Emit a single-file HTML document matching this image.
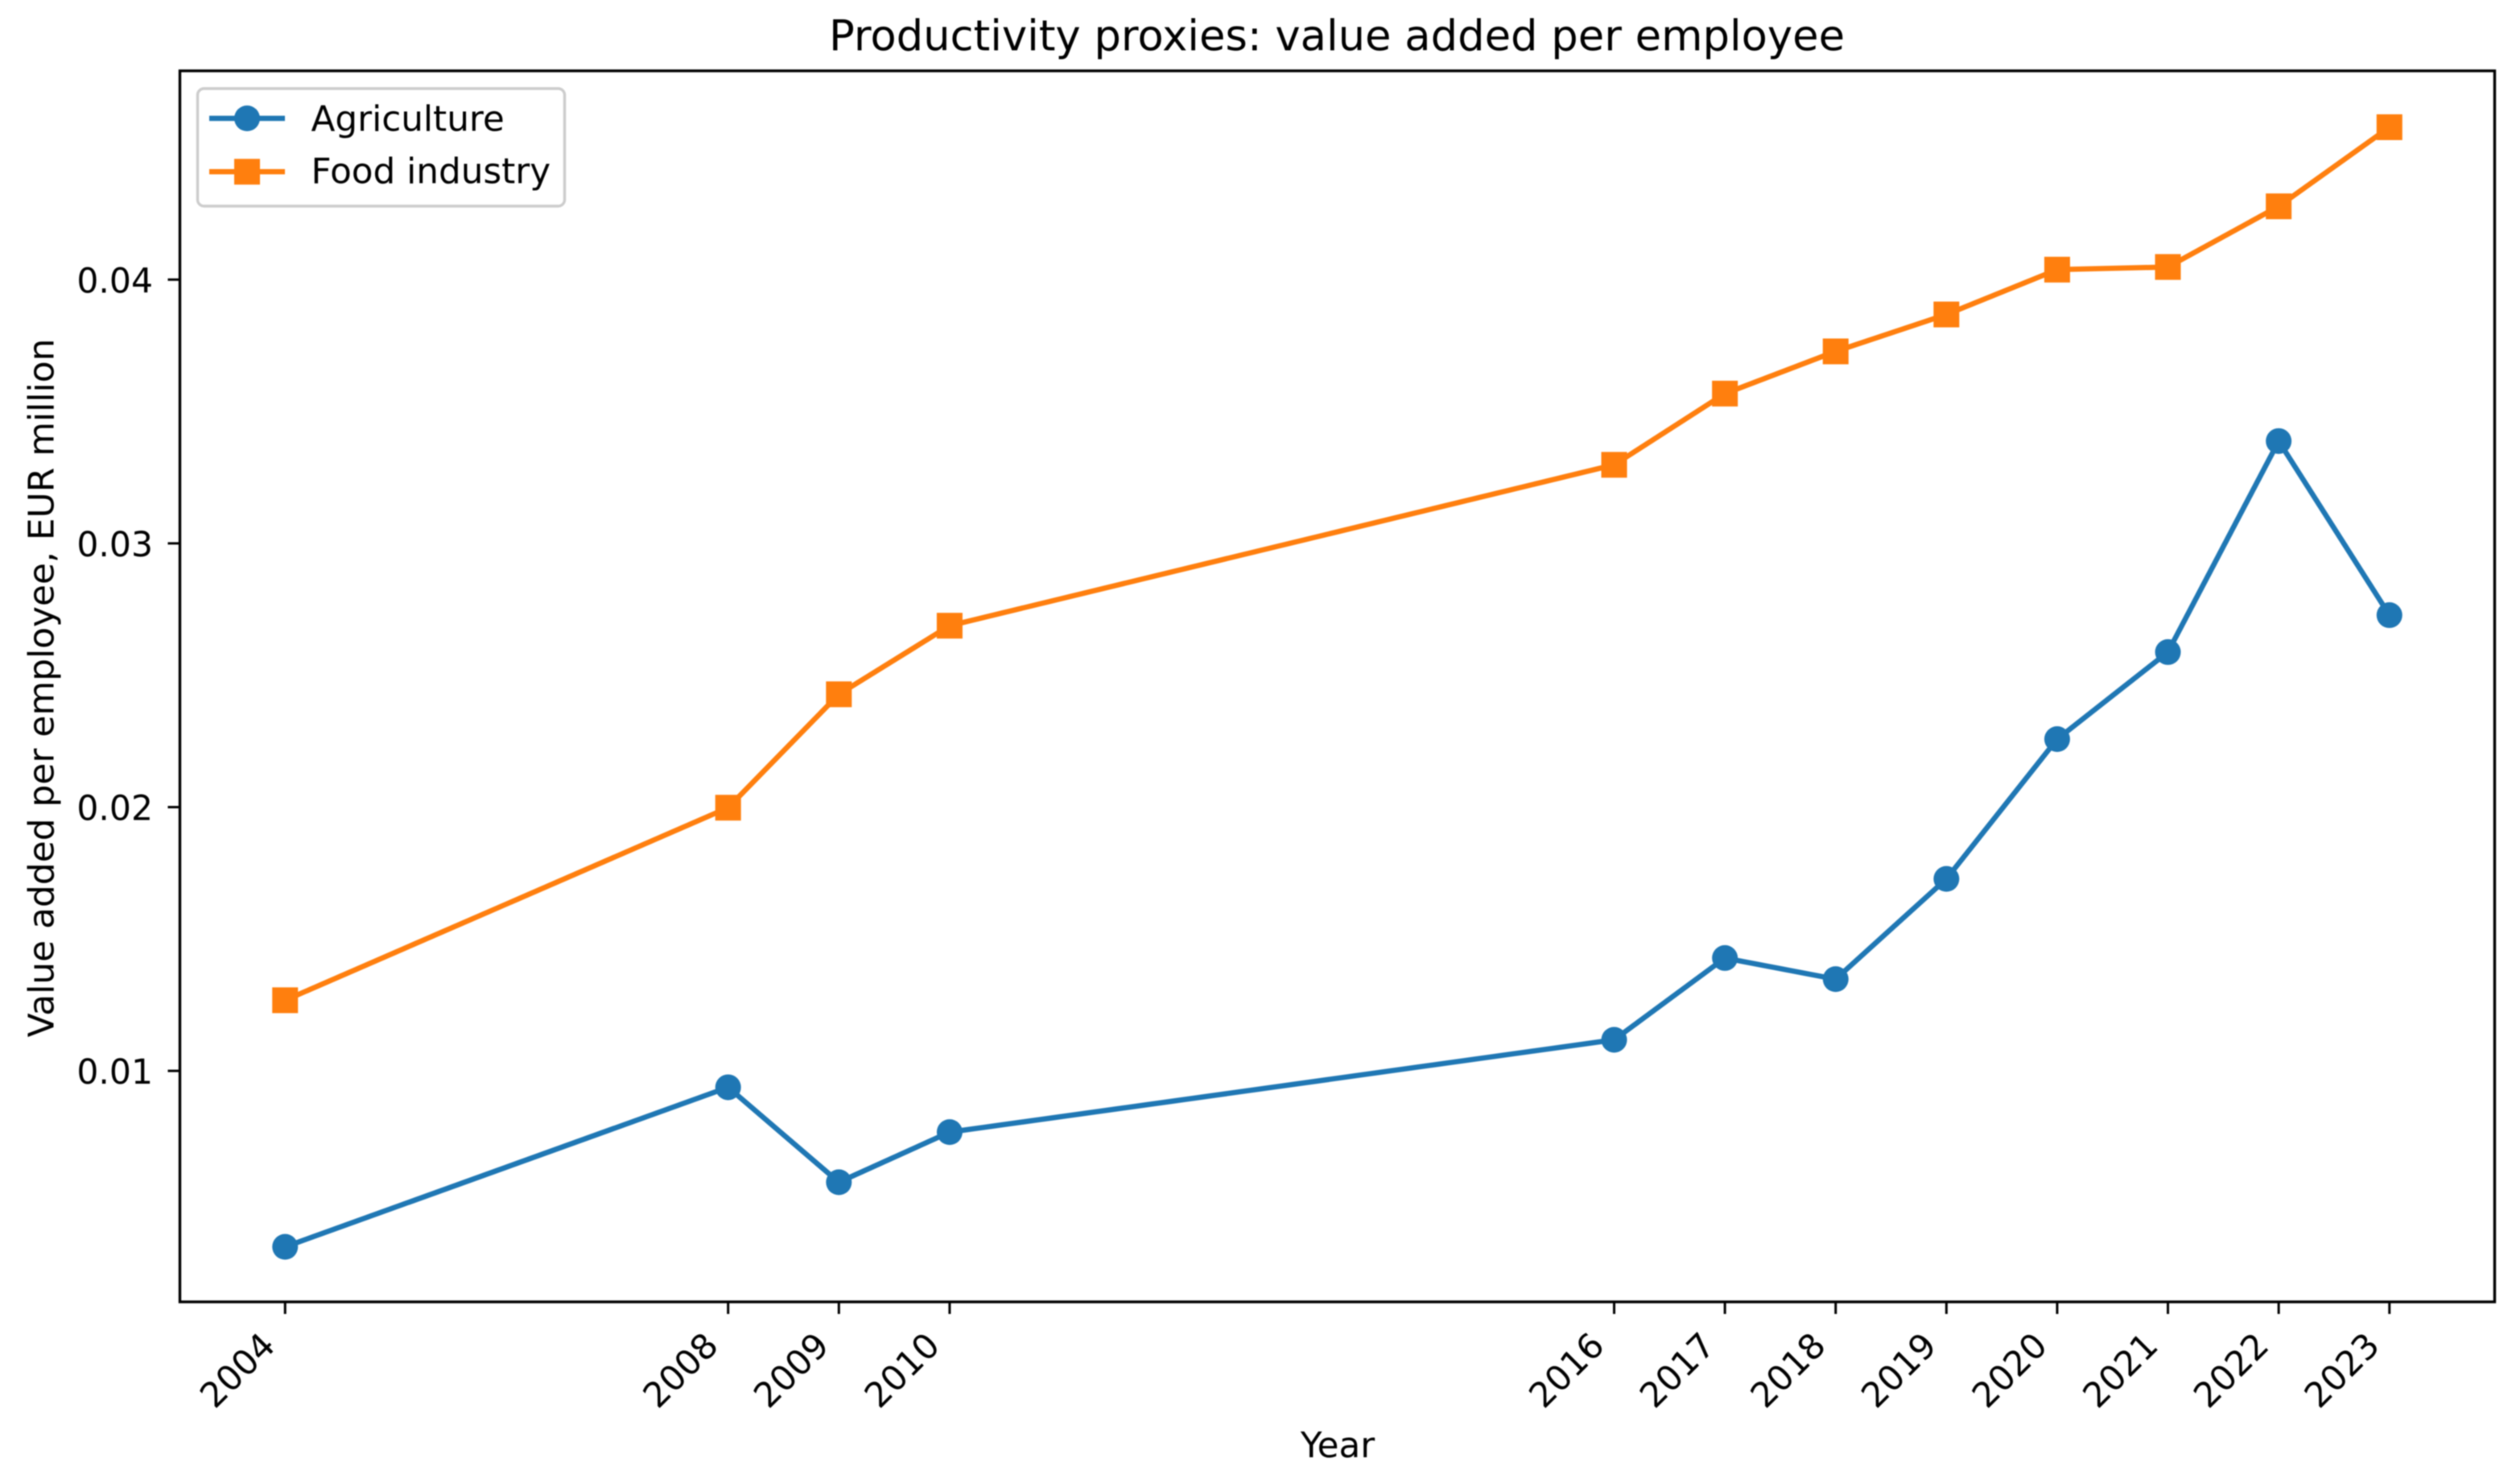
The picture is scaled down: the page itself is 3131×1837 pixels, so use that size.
<!DOCTYPE html>
<html lang="en">
<head>
<meta charset="utf-8">
<title>Productivity proxies: value added per employee</title>
<style>
html,body{margin:0;padding:0;background:#fff;width:3131px;height:1837px;overflow:hidden}
svg{display:block;filter:blur(0.9px)}
text{font-family:"DejaVu Sans","Liberation Sans",sans-serif;fill:#000}
</style>
</head>
<body>
<svg id="chart" xmlns="http://www.w3.org/2000/svg" width="3131" height="1837" viewBox="0 0 3131 1837">
  <rect x="0" y="0" width="3131" height="1837" fill="#fff"/>
  <g id="marks"></g>
  <rect x="223.5" y="88" width="2876" height="1529" fill="none" stroke="#000" stroke-width="3.4"/>
  <g id="xticks"></g>
  <g id="yticks"></g>
  <text x="1661" y="62.5" font-size="52.75" text-anchor="middle">Productivity proxies: value added per employee</text>
  <text x="1662" y="1810" font-size="43.6" text-anchor="middle">Year</text>
  <text x="0" y="0" font-size="43.9" text-anchor="middle" transform="translate(66.5 854.5) rotate(-90)">Value added per employee, EUR million</text>
  <g>
    <rect x="245.5" y="110" width="456" height="146" rx="8" ry="8" fill="#fff" fill-opacity="0.8" stroke="#ccc" stroke-width="3.4"/>
    <g>
      <line x1="260" y1="147" x2="354" y2="147" stroke="#1f77b4" stroke-width="6.5"/>
      <circle cx="307" cy="147" r="16" fill="#1f77b4"/>
      <text x="386.5" y="162.5" font-size="43.7">Agriculture</text>
    </g>
    <g>
      <line x1="260" y1="213.3" x2="354" y2="213.3" stroke="#ff7f0e" stroke-width="6.5"/>
      <rect x="291" y="197.3" width="32" height="32" fill="#ff7f0e"/>
      <text x="386.5" y="227.5" font-size="43.7">Food industry</text>
    </g>
  </g>
</svg>
<script>
const years = [2004, 2008, 2009, 2010, 2016, 2017, 2018, 2019, 2020, 2021, 2022, 2023];
const agriculture = [0.00335, 0.0094, 0.0058, 0.0077, 0.0112, 0.0143, 0.0135, 0.0173, 0.0226, 0.0259, 0.0339, 0.0273];
const foodIndustry = [0.0127, 0.0200, 0.0243, 0.0269, 0.0330, 0.0357, 0.0373, 0.0387, 0.0404, 0.0405, 0.0428, 0.0458];
const yTicks = [0.01, 0.02, 0.03, 0.04];
const yTickLabels = ["0.01", "0.02", "0.03", "0.04"];

const NS = "http://www.w3.org/2000/svg";
const PLOT = { left: 223.5, right: 3099.5, top: 88, bottom: 1617 };
const YEAR_MIN = Math.min(...years);
const YEAR_MAX = Math.max(...years);
const XPAD = (YEAR_MAX - YEAR_MIN) * 0.05;

function xScale(year) {
  const lo = YEAR_MIN - XPAD, hi = YEAR_MAX + XPAD;
  return PLOT.left + (year - lo) / (hi - lo) * (PLOT.right - PLOT.left);
}
function yScale(value) {
  return 347.3 + (0.04 - value) * 32760;
}
function mk(tag, attrs, parent) {
  const el = document.createElementNS(NS, tag);
  for (const k in attrs) el.setAttribute(k, attrs[k]);
  parent.appendChild(el);
  return el;
}

const marksG = document.getElementById("marks");
const xG = document.getElementById("xticks");
const yG = document.getElementById("yticks");
const MARK_SHIFT = 0.7;

function drawSeries(values, color, kind, slug) {
  const g = mk("g", {}, marksG);
  
  
  const pts = values.map((v, i) => xScale(years[i]).toFixed(2) + "," + (yScale(v) + MARK_SHIFT).toFixed(2)).join(" ");
  const line = mk("polyline", { points: pts, fill: "none", stroke: color, "stroke-width": 6.5, "stroke-linejoin": "round" }, g);
  
  
  values.forEach((v, i) => {
    const cx = xScale(years[i]), cy = yScale(v) + MARK_SHIFT;
    let m;
    if (kind === "circle") {
      m = mk("circle", { cx: cx, cy: cy, r: 16, fill: color }, g);
    } else {
      m = mk("rect", { x: cx - 16, y: cy - 16, width: 32, height: 32, fill: color }, g);
    }
    
    
  });
}
drawSeries(agriculture, "#1f77b4", "circle", "agriculture");
drawSeries(foodIndustry, "#ff7f0e", "square", "food-industry");

years.forEach((yr) => {
  const x = xScale(yr);
  const t = mk("line", { x1: x, y1: PLOT.bottom, x2: x, y2: PLOT.bottom + 15, stroke: "#000", "stroke-width": 3 }, xG);
  
  
  const cx = x - 59.6, cy = 1701.5;
  const lab = mk("text", { x: cx, y: cy + 15.5, "font-size": 43, "text-anchor": "middle", transform: "rotate(-45 " + cx + " " + cy + ")" }, xG);
  lab.textContent = String(yr);
  
  
});

yTicks.forEach((v, i) => {
  const y = yScale(v);
  const t = mk("line", { x1: PLOT.left - 15, y1: y, x2: PLOT.left, y2: y, stroke: "#000", "stroke-width": 3 }, yG);
  
  
  const lab = mk("text", { x: 190, y: y + 16, "font-size": 42.5, "text-anchor": "end" }, yG);
  lab.textContent = yTickLabels[i];
  
  
});
</script>
</body>
</html>
